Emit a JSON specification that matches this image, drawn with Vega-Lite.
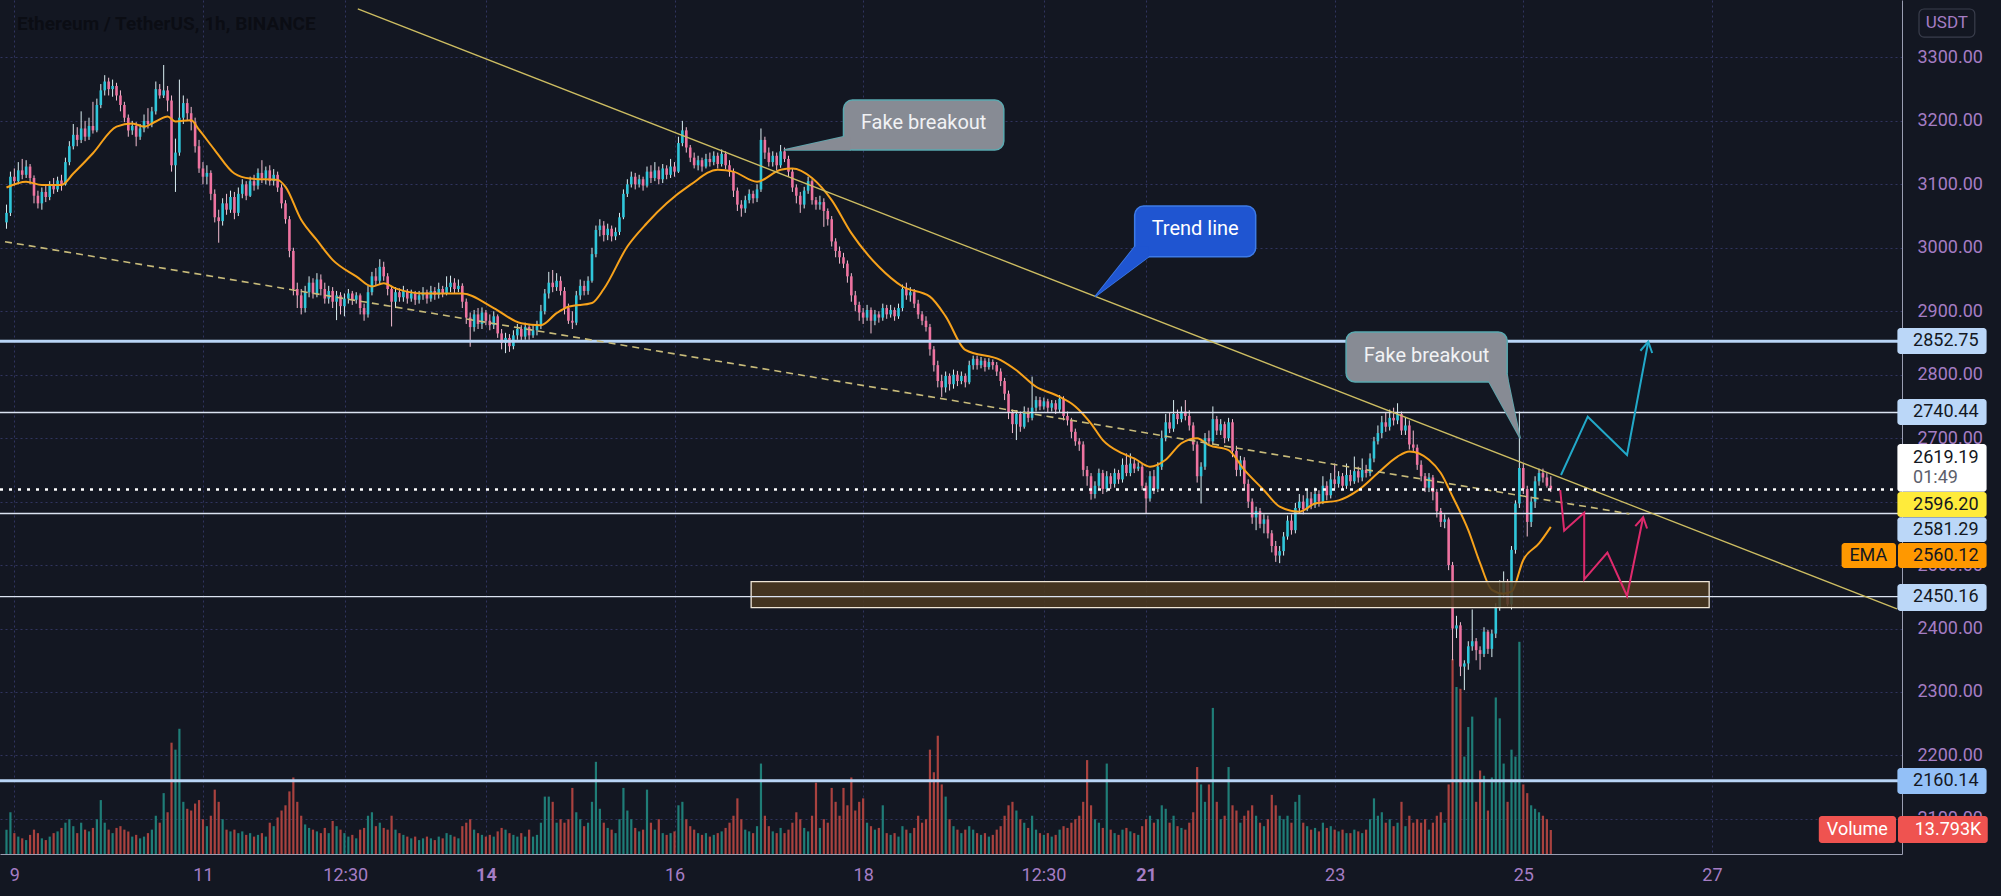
{
"$schema":"https://vega.github.io/schema/vega-lite/v6.json",
"width":1902,"height":854,
"autosize":{"type":"none"},
"padding":{"left":0,"top":0,"right":99,"bottom":42},
"background":"#131722",
"config":{"view":{"stroke":null},"font":"Roboto"},
"datasets":{
"k":[
{"t":-2,"o":3040,"h":3068,"l":3030,"c":3055,"v":14},
{"t":-1,"o":3055,"h":3120,"l":3050,"c":3112,"v":24},
{"t":0,"o":3112,"h":3125,"l":3098,"c":3105,"v":12},
{"t":1,"o":3105,"h":3135,"l":3100,"c":3122,"v":10},
{"t":2,"o":3122,"h":3140,"l":3108,"c":3115,"v":9},
{"t":3,"o":3115,"h":3138,"l":3110,"c":3128,"v":8},
{"t":4,"o":3128,"h":3132,"l":3100,"c":3110,"v":11},
{"t":5,"o":3110,"h":3114,"l":3070,"c":3082,"v":14},
{"t":6,"o":3082,"h":3090,"l":3062,"c":3070,"v":12},
{"t":7,"o":3070,"h":3095,"l":3060,"c":3088,"v":9},
{"t":8,"o":3088,"h":3098,"l":3072,"c":3080,"v":8},
{"t":9,"o":3080,"h":3105,"l":3075,"c":3098,"v":10},
{"t":10,"o":3098,"h":3110,"l":3085,"c":3092,"v":12},
{"t":11,"o":3092,"h":3112,"l":3088,"c":3106,"v":13},
{"t":12,"o":3106,"h":3115,"l":3090,"c":3100,"v":15},
{"t":13,"o":3100,"h":3142,"l":3098,"c":3135,"v":18},
{"t":14,"o":3135,"h":3168,"l":3130,"c":3160,"v":20},
{"t":15,"o":3160,"h":3195,"l":3155,"c":3178,"v":16},
{"t":16,"o":3178,"h":3190,"l":3160,"c":3170,"v":12},
{"t":17,"o":3170,"h":3215,"l":3165,"c":3188,"v":18},
{"t":18,"o":3188,"h":3200,"l":3168,"c":3175,"v":14},
{"t":19,"o":3175,"h":3205,"l":3170,"c":3192,"v":13},
{"t":20,"o":3192,"h":3230,"l":3180,"c":3185,"v":15},
{"t":21,"o":3185,"h":3235,"l":3182,"c":3225,"v":20},
{"t":22,"o":3225,"h":3258,"l":3220,"c":3248,"v":31},
{"t":23,"o":3248,"h":3272,"l":3240,"c":3262,"v":18},
{"t":24,"o":3262,"h":3268,"l":3240,"c":3250,"v":14},
{"t":25,"o":3250,"h":3265,"l":3238,"c":3255,"v":12},
{"t":26,"o":3255,"h":3260,"l":3232,"c":3240,"v":15},
{"t":27,"o":3240,"h":3248,"l":3215,"c":3225,"v":16},
{"t":28,"o":3225,"h":3230,"l":3198,"c":3205,"v":14},
{"t":29,"o":3205,"h":3210,"l":3175,"c":3185,"v":13},
{"t":30,"o":3185,"h":3200,"l":3178,"c":3192,"v":10},
{"t":31,"o":3192,"h":3198,"l":3160,"c":3175,"v":11},
{"t":32,"o":3175,"h":3195,"l":3170,"c":3188,"v":9},
{"t":33,"o":3188,"h":3210,"l":3182,"c":3200,"v":10},
{"t":34,"o":3200,"h":3220,"l":3188,"c":3195,"v":12},
{"t":35,"o":3195,"h":3222,"l":3190,"c":3215,"v":14},
{"t":36,"o":3215,"h":3262,"l":3210,"c":3250,"v":22},
{"t":37,"o":3250,"h":3258,"l":3235,"c":3240,"v":18},
{"t":38,"o":3240,"h":3288,"l":3236,"c":3248,"v":35},
{"t":39,"o":3248,"h":3255,"l":3215,"c":3232,"v":24},
{"t":40,"o":3232,"h":3240,"l":3120,"c":3130,"v":64},
{"t":41,"o":3130,"h":3172,"l":3088,"c":3150,"v":60},
{"t":42,"o":3150,"h":3265,"l":3145,"c":3205,"v":72},
{"t":43,"o":3205,"h":3240,"l":3195,"c":3228,"v":30},
{"t":44,"o":3228,"h":3235,"l":3200,"c":3212,"v":26},
{"t":45,"o":3212,"h":3222,"l":3185,"c":3198,"v":25},
{"t":46,"o":3198,"h":3205,"l":3150,"c":3160,"v":29},
{"t":47,"o":3160,"h":3170,"l":3118,"c":3125,"v":31},
{"t":48,"o":3125,"h":3135,"l":3100,"c":3112,"v":20},
{"t":49,"o":3112,"h":3130,"l":3100,"c":3118,"v":16},
{"t":50,"o":3118,"h":3122,"l":3075,"c":3085,"v":22},
{"t":51,"o":3085,"h":3092,"l":3040,"c":3048,"v":37},
{"t":52,"o":3048,"h":3060,"l":3008,"c":3042,"v":30},
{"t":53,"o":3042,"h":3078,"l":3035,"c":3070,"v":20},
{"t":54,"o":3070,"h":3085,"l":3052,"c":3060,"v":14},
{"t":55,"o":3060,"h":3090,"l":3055,"c":3080,"v":13},
{"t":56,"o":3080,"h":3088,"l":3045,"c":3055,"v":14},
{"t":57,"o":3055,"h":3095,"l":3050,"c":3085,"v":12},
{"t":58,"o":3085,"h":3108,"l":3078,"c":3100,"v":13},
{"t":59,"o":3100,"h":3105,"l":3075,"c":3082,"v":11},
{"t":60,"o":3082,"h":3112,"l":3080,"c":3105,"v":12},
{"t":61,"o":3105,"h":3115,"l":3090,"c":3098,"v":10},
{"t":62,"o":3098,"h":3125,"l":3092,"c":3118,"v":11},
{"t":63,"o":3118,"h":3138,"l":3102,"c":3110,"v":12},
{"t":64,"o":3110,"h":3128,"l":3100,"c":3122,"v":10},
{"t":65,"o":3122,"h":3130,"l":3098,"c":3105,"v":18},
{"t":66,"o":3105,"h":3124,"l":3098,"c":3115,"v":16},
{"t":67,"o":3115,"h":3120,"l":3088,"c":3095,"v":21},
{"t":68,"o":3095,"h":3100,"l":3062,"c":3070,"v":25},
{"t":69,"o":3070,"h":3075,"l":3038,"c":3045,"v":28},
{"t":70,"o":3045,"h":3050,"l":2985,"c":2995,"v":36},
{"t":71,"o":2995,"h":3000,"l":2925,"c":2935,"v":44},
{"t":72,"o":2935,"h":2945,"l":2905,"c":2925,"v":30},
{"t":73,"o":2925,"h":2935,"l":2895,"c":2905,"v":22},
{"t":74,"o":2905,"h":2940,"l":2898,"c":2930,"v":17},
{"t":75,"o":2930,"h":2955,"l":2922,"c":2945,"v":15},
{"t":76,"o":2945,"h":2952,"l":2920,"c":2928,"v":14},
{"t":77,"o":2928,"h":2960,"l":2922,"c":2950,"v":13},
{"t":78,"o":2950,"h":2958,"l":2925,"c":2935,"v":12},
{"t":79,"o":2935,"h":2945,"l":2912,"c":2920,"v":15},
{"t":80,"o":2920,"h":2940,"l":2912,"c":2932,"v":12},
{"t":81,"o":2932,"h":2938,"l":2905,"c":2915,"v":19},
{"t":82,"o":2915,"h":2932,"l":2886,"c":2925,"v":16},
{"t":83,"o":2925,"h":2930,"l":2895,"c":2908,"v":14},
{"t":84,"o":2908,"h":2928,"l":2892,"c":2920,"v":12},
{"t":85,"o":2920,"h":2935,"l":2912,"c":2928,"v":10},
{"t":86,"o":2928,"h":2932,"l":2910,"c":2918,"v":11},
{"t":87,"o":2918,"h":2930,"l":2912,"c":2925,"v":9},
{"t":88,"o":2925,"h":2928,"l":2895,"c":2905,"v":14},
{"t":89,"o":2905,"h":2912,"l":2885,"c":2895,"v":15},
{"t":90,"o":2895,"h":2940,"l":2890,"c":2930,"v":22},
{"t":91,"o":2930,"h":2962,"l":2925,"c":2955,"v":24},
{"t":92,"o":2955,"h":2968,"l":2940,"c":2948,"v":16},
{"t":93,"o":2948,"h":2982,"l":2942,"c":2970,"v":18},
{"t":94,"o":2970,"h":2978,"l":2948,"c":2955,"v":15},
{"t":95,"o":2955,"h":2960,"l":2925,"c":2935,"v":14},
{"t":96,"o":2935,"h":2940,"l":2876,"c":2915,"v":22},
{"t":97,"o":2915,"h":2938,"l":2905,"c":2930,"v":14},
{"t":98,"o":2930,"h":2936,"l":2915,"c":2922,"v":12},
{"t":99,"o":2922,"h":2940,"l":2915,"c":2932,"v":11},
{"t":100,"o":2932,"h":2935,"l":2912,"c":2920,"v":10},
{"t":101,"o":2920,"h":2934,"l":2915,"c":2928,"v":9},
{"t":102,"o":2928,"h":2932,"l":2910,"c":2918,"v":10},
{"t":103,"o":2918,"h":2932,"l":2912,"c":2925,"v":8},
{"t":104,"o":2925,"h":2938,"l":2918,"c":2930,"v":9},
{"t":105,"o":2930,"h":2934,"l":2912,"c":2920,"v":10},
{"t":106,"o":2920,"h":2940,"l":2915,"c":2932,"v":9},
{"t":107,"o":2932,"h":2938,"l":2918,"c":2926,"v":8},
{"t":108,"o":2926,"h":2945,"l":2920,"c":2935,"v":10},
{"t":109,"o":2935,"h":2940,"l":2922,"c":2928,"v":9},
{"t":110,"o":2928,"h":2955,"l":2925,"c":2938,"v":12},
{"t":111,"o":2938,"h":2956,"l":2930,"c":2945,"v":11},
{"t":112,"o":2945,"h":2952,"l":2928,"c":2935,"v":10},
{"t":113,"o":2935,"h":2950,"l":2930,"c":2940,"v":9},
{"t":114,"o":2940,"h":2944,"l":2905,"c":2915,"v":16},
{"t":115,"o":2915,"h":2920,"l":2880,"c":2890,"v":18},
{"t":116,"o":2890,"h":2898,"l":2844,"c":2875,"v":20},
{"t":117,"o":2875,"h":2902,"l":2868,"c":2895,"v":14},
{"t":118,"o":2895,"h":2905,"l":2872,"c":2880,"v":12},
{"t":119,"o":2880,"h":2906,"l":2872,"c":2898,"v":11},
{"t":120,"o":2898,"h":2902,"l":2878,"c":2885,"v":10},
{"t":121,"o":2885,"h":2895,"l":2870,"c":2878,"v":11},
{"t":122,"o":2878,"h":2900,"l":2872,"c":2892,"v":10},
{"t":123,"o":2892,"h":2895,"l":2858,"c":2865,"v":13},
{"t":124,"o":2865,"h":2872,"l":2840,"c":2850,"v":15},
{"t":125,"o":2850,"h":2866,"l":2834,"c":2858,"v":14},
{"t":126,"o":2858,"h":2864,"l":2836,"c":2845,"v":12},
{"t":127,"o":2845,"h":2870,"l":2840,"c":2862,"v":11},
{"t":128,"o":2862,"h":2880,"l":2855,"c":2872,"v":10},
{"t":129,"o":2872,"h":2878,"l":2852,"c":2860,"v":12},
{"t":130,"o":2860,"h":2882,"l":2855,"c":2875,"v":10},
{"t":131,"o":2875,"h":2880,"l":2855,"c":2862,"v":14},
{"t":132,"o":2862,"h":2878,"l":2858,"c":2870,"v":10},
{"t":133,"o":2870,"h":2885,"l":2862,"c":2878,"v":11},
{"t":134,"o":2878,"h":2910,"l":2872,"c":2900,"v":18},
{"t":135,"o":2900,"h":2935,"l":2895,"c":2928,"v":33},
{"t":136,"o":2928,"h":2962,"l":2920,"c":2945,"v":33},
{"t":137,"o":2945,"h":2965,"l":2930,"c":2938,"v":30},
{"t":138,"o":2938,"h":2960,"l":2932,"c":2948,"v":18},
{"t":139,"o":2948,"h":2955,"l":2925,"c":2932,"v":20},
{"t":140,"o":2932,"h":2938,"l":2895,"c":2905,"v":18},
{"t":141,"o":2905,"h":2912,"l":2880,"c":2885,"v":20},
{"t":142,"o":2885,"h":2900,"l":2872,"c":2882,"v":38},
{"t":143,"o":2882,"h":2932,"l":2878,"c":2925,"v":24},
{"t":144,"o":2925,"h":2950,"l":2918,"c":2940,"v":20},
{"t":145,"o":2940,"h":2948,"l":2925,"c":2932,"v":16},
{"t":146,"o":2932,"h":2955,"l":2926,"c":2948,"v":18},
{"t":147,"o":2948,"h":3000,"l":2945,"c":2990,"v":30},
{"t":148,"o":2990,"h":3035,"l":2985,"c":3028,"v":53},
{"t":149,"o":3028,"h":3045,"l":3018,"c":3035,"v":26},
{"t":150,"o":3035,"h":3042,"l":3010,"c":3020,"v":18},
{"t":151,"o":3020,"h":3038,"l":3012,"c":3030,"v":15},
{"t":152,"o":3030,"h":3035,"l":3010,"c":3018,"v":14},
{"t":153,"o":3018,"h":3032,"l":3012,"c":3025,"v":12},
{"t":154,"o":3025,"h":3055,"l":3020,"c":3048,"v":20},
{"t":155,"o":3048,"h":3092,"l":3045,"c":3085,"v":38},
{"t":156,"o":3085,"h":3108,"l":3080,"c":3100,"v":25},
{"t":157,"o":3100,"h":3120,"l":3095,"c":3112,"v":20},
{"t":158,"o":3112,"h":3118,"l":3092,"c":3100,"v":15},
{"t":159,"o":3100,"h":3115,"l":3095,"c":3108,"v":13},
{"t":160,"o":3108,"h":3112,"l":3090,"c":3098,"v":14},
{"t":161,"o":3098,"h":3128,"l":3095,"c":3120,"v":37},
{"t":162,"o":3120,"h":3130,"l":3102,"c":3110,"v":18},
{"t":163,"o":3110,"h":3135,"l":3105,"c":3122,"v":14},
{"t":164,"o":3122,"h":3128,"l":3100,"c":3108,"v":20},
{"t":165,"o":3108,"h":3132,"l":3102,"c":3125,"v":12},
{"t":166,"o":3125,"h":3130,"l":3108,"c":3115,"v":11},
{"t":167,"o":3115,"h":3140,"l":3110,"c":3128,"v":12},
{"t":168,"o":3128,"h":3135,"l":3112,"c":3120,"v":13},
{"t":169,"o":3120,"h":3175,"l":3118,"c":3165,"v":28},
{"t":170,"o":3165,"h":3200,"l":3160,"c":3185,"v":30},
{"t":171,"o":3185,"h":3190,"l":3150,"c":3158,"v":20},
{"t":172,"o":3158,"h":3162,"l":3135,"c":3142,"v":16},
{"t":173,"o":3142,"h":3150,"l":3125,"c":3130,"v":14},
{"t":174,"o":3130,"h":3145,"l":3122,"c":3138,"v":12},
{"t":175,"o":3138,"h":3142,"l":3120,"c":3128,"v":11},
{"t":176,"o":3128,"h":3148,"l":3125,"c":3140,"v":12},
{"t":177,"o":3140,"h":3150,"l":3128,"c":3135,"v":10},
{"t":178,"o":3135,"h":3152,"l":3130,"c":3145,"v":11},
{"t":179,"o":3145,"h":3150,"l":3125,"c":3132,"v":12},
{"t":180,"o":3132,"h":3155,"l":3128,"c":3148,"v":13},
{"t":181,"o":3148,"h":3152,"l":3124,"c":3130,"v":15},
{"t":182,"o":3130,"h":3138,"l":3112,"c":3120,"v":18},
{"t":183,"o":3120,"h":3125,"l":3080,"c":3090,"v":22},
{"t":184,"o":3090,"h":3095,"l":3058,"c":3068,"v":32},
{"t":185,"o":3068,"h":3075,"l":3049,"c":3062,"v":20},
{"t":186,"o":3062,"h":3082,"l":3055,"c":3075,"v":14},
{"t":187,"o":3075,"h":3092,"l":3070,"c":3085,"v":13},
{"t":188,"o":3085,"h":3090,"l":3070,"c":3078,"v":12},
{"t":189,"o":3078,"h":3100,"l":3072,"c":3092,"v":16},
{"t":190,"o":3092,"h":3188,"l":3088,"c":3170,"v":52},
{"t":191,"o":3170,"h":3175,"l":3140,"c":3150,"v":22},
{"t":192,"o":3150,"h":3158,"l":3128,"c":3135,"v":16},
{"t":193,"o":3135,"h":3152,"l":3128,"c":3145,"v":13},
{"t":194,"o":3145,"h":3150,"l":3122,"c":3130,"v":12},
{"t":195,"o":3130,"h":3162,"l":3126,"c":3152,"v":15},
{"t":196,"o":3152,"h":3158,"l":3135,"c":3140,"v":12},
{"t":197,"o":3140,"h":3145,"l":3112,"c":3120,"v":14},
{"t":198,"o":3120,"h":3125,"l":3088,"c":3095,"v":18},
{"t":199,"o":3095,"h":3100,"l":3070,"c":3082,"v":24},
{"t":200,"o":3082,"h":3088,"l":3055,"c":3068,"v":20},
{"t":201,"o":3068,"h":3096,"l":3062,"c":3090,"v":15},
{"t":202,"o":3090,"h":3112,"l":3085,"c":3105,"v":13},
{"t":203,"o":3105,"h":3108,"l":3068,"c":3075,"v":22},
{"t":204,"o":3075,"h":3080,"l":3060,"c":3068,"v":41},
{"t":205,"o":3068,"h":3082,"l":3060,"c":3072,"v":15},
{"t":206,"o":3072,"h":3078,"l":3033,"c":3058,"v":20},
{"t":207,"o":3058,"h":3062,"l":3035,"c":3045,"v":18},
{"t":208,"o":3045,"h":3050,"l":3002,"c":3010,"v":38},
{"t":209,"o":3010,"h":3015,"l":2985,"c":2995,"v":30},
{"t":210,"o":2995,"h":3002,"l":2975,"c":2985,"v":22},
{"t":211,"o":2985,"h":2992,"l":2968,"c":2975,"v":38},
{"t":212,"o":2975,"h":2980,"l":2945,"c":2955,"v":28},
{"t":213,"o":2955,"h":2960,"l":2915,"c":2925,"v":44},
{"t":214,"o":2925,"h":2932,"l":2900,"c":2910,"v":25},
{"t":215,"o":2910,"h":2915,"l":2885,"c":2898,"v":30},
{"t":216,"o":2898,"h":2905,"l":2880,"c":2890,"v":32},
{"t":217,"o":2890,"h":2910,"l":2885,"c":2902,"v":18},
{"t":218,"o":2902,"h":2906,"l":2865,"c":2885,"v":16},
{"t":219,"o":2885,"h":2902,"l":2878,"c":2895,"v":14},
{"t":220,"o":2895,"h":2900,"l":2882,"c":2890,"v":15},
{"t":221,"o":2890,"h":2912,"l":2885,"c":2905,"v":28},
{"t":222,"o":2905,"h":2910,"l":2888,"c":2895,"v":12},
{"t":223,"o":2895,"h":2910,"l":2890,"c":2902,"v":11},
{"t":224,"o":2902,"h":2906,"l":2885,"c":2892,"v":12},
{"t":225,"o":2892,"h":2912,"l":2888,"c":2905,"v":10},
{"t":226,"o":2905,"h":2942,"l":2900,"c":2935,"v":16},
{"t":227,"o":2935,"h":2945,"l":2918,"c":2925,"v":14},
{"t":228,"o":2925,"h":2938,"l":2915,"c":2930,"v":12},
{"t":229,"o":2930,"h":2935,"l":2905,"c":2912,"v":15},
{"t":230,"o":2912,"h":2918,"l":2888,"c":2895,"v":22},
{"t":231,"o":2895,"h":2900,"l":2878,"c":2885,"v":18},
{"t":232,"o":2885,"h":2892,"l":2868,"c":2875,"v":20},
{"t":233,"o":2875,"h":2880,"l":2830,"c":2840,"v":60},
{"t":234,"o":2840,"h":2845,"l":2805,"c":2815,"v":47},
{"t":235,"o":2815,"h":2822,"l":2780,"c":2790,"v":68},
{"t":236,"o":2790,"h":2800,"l":2765,"c":2780,"v":40},
{"t":237,"o":2780,"h":2805,"l":2772,"c":2798,"v":33},
{"t":238,"o":2798,"h":2802,"l":2775,"c":2785,"v":20},
{"t":239,"o":2785,"h":2808,"l":2778,"c":2800,"v":16},
{"t":240,"o":2800,"h":2806,"l":2782,"c":2790,"v":14},
{"t":241,"o":2790,"h":2805,"l":2785,"c":2798,"v":12},
{"t":242,"o":2798,"h":2802,"l":2780,"c":2788,"v":14},
{"t":243,"o":2788,"h":2822,"l":2785,"c":2815,"v":16},
{"t":244,"o":2815,"h":2830,"l":2808,"c":2825,"v":14},
{"t":245,"o":2825,"h":2830,"l":2808,"c":2815,"v":12},
{"t":246,"o":2815,"h":2828,"l":2810,"c":2822,"v":11},
{"t":247,"o":2822,"h":2826,"l":2805,"c":2812,"v":12},
{"t":248,"o":2812,"h":2826,"l":2808,"c":2820,"v":10},
{"t":249,"o":2820,"h":2824,"l":2808,"c":2815,"v":11},
{"t":250,"o":2815,"h":2820,"l":2798,"c":2805,"v":14},
{"t":251,"o":2805,"h":2810,"l":2782,"c":2790,"v":16},
{"t":252,"o":2790,"h":2795,"l":2760,"c":2770,"v":22},
{"t":253,"o":2770,"h":2775,"l":2730,"c":2740,"v":28},
{"t":254,"o":2740,"h":2745,"l":2708,"c":2722,"v":30},
{"t":255,"o":2722,"h":2744,"l":2697,"c":2738,"v":25},
{"t":256,"o":2738,"h":2742,"l":2710,"c":2718,"v":20},
{"t":257,"o":2718,"h":2750,"l":2715,"c":2742,"v":18},
{"t":258,"o":2742,"h":2748,"l":2725,"c":2732,"v":15},
{"t":259,"o":2732,"h":2797,"l":2728,"c":2748,"v":22},
{"t":260,"o":2748,"h":2766,"l":2742,"c":2760,"v":14},
{"t":261,"o":2760,"h":2765,"l":2744,"c":2750,"v":12},
{"t":262,"o":2750,"h":2764,"l":2745,"c":2758,"v":11},
{"t":263,"o":2758,"h":2762,"l":2740,"c":2748,"v":12},
{"t":264,"o":2748,"h":2760,"l":2742,"c":2755,"v":10},
{"t":265,"o":2755,"h":2760,"l":2738,"c":2745,"v":11},
{"t":266,"o":2745,"h":2768,"l":2740,"c":2762,"v":14},
{"t":267,"o":2762,"h":2766,"l":2728,"c":2735,"v":16},
{"t":268,"o":2735,"h":2742,"l":2720,"c":2728,"v":15},
{"t":269,"o":2728,"h":2732,"l":2700,"c":2710,"v":18},
{"t":270,"o":2710,"h":2715,"l":2688,"c":2695,"v":20},
{"t":271,"o":2695,"h":2700,"l":2680,"c":2690,"v":22},
{"t":272,"o":2690,"h":2695,"l":2640,"c":2650,"v":30},
{"t":273,"o":2650,"h":2656,"l":2625,"c":2640,"v":54},
{"t":274,"o":2640,"h":2645,"l":2603,"c":2612,"v":28},
{"t":275,"o":2612,"h":2632,"l":2605,"c":2625,"v":20},
{"t":276,"o":2625,"h":2652,"l":2620,"c":2645,"v":18},
{"t":277,"o":2645,"h":2650,"l":2612,"c":2620,"v":15},
{"t":278,"o":2620,"h":2648,"l":2615,"c":2640,"v":52},
{"t":279,"o":2640,"h":2645,"l":2620,"c":2628,"v":14},
{"t":280,"o":2628,"h":2652,"l":2622,"c":2645,"v":12},
{"t":281,"o":2645,"h":2650,"l":2628,"c":2635,"v":11},
{"t":282,"o":2635,"h":2668,"l":2630,"c":2658,"v":14},
{"t":283,"o":2658,"h":2676,"l":2640,"c":2645,"v":15},
{"t":284,"o":2645,"h":2676,"l":2640,"c":2660,"v":13},
{"t":285,"o":2660,"h":2668,"l":2645,"c":2652,"v":12},
{"t":286,"o":2652,"h":2662,"l":2648,"c":2655,"v":11},
{"t":287,"o":2655,"h":2660,"l":2618,"c":2625,"v":16},
{"t":288,"o":2625,"h":2630,"l":2581,"c":2605,"v":20},
{"t":289,"o":2605,"h":2648,"l":2600,"c":2640,"v":22},
{"t":290,"o":2640,"h":2650,"l":2612,"c":2620,"v":18},
{"t":291,"o":2620,"h":2662,"l":2615,"c":2655,"v":20},
{"t":292,"o":2655,"h":2712,"l":2650,"c":2700,"v":28},
{"t":293,"o":2700,"h":2738,"l":2695,"c":2725,"v":26},
{"t":294,"o":2725,"h":2740,"l":2708,"c":2715,"v":18},
{"t":295,"o":2715,"h":2760,"l":2710,"c":2738,"v":22},
{"t":296,"o":2738,"h":2745,"l":2722,"c":2730,"v":16},
{"t":297,"o":2730,"h":2750,"l":2725,"c":2742,"v":15},
{"t":298,"o":2742,"h":2760,"l":2728,"c":2735,"v":14},
{"t":299,"o":2735,"h":2744,"l":2712,"c":2720,"v":18},
{"t":300,"o":2720,"h":2725,"l":2680,"c":2690,"v":24},
{"t":301,"o":2690,"h":2695,"l":2630,"c":2640,"v":50},
{"t":302,"o":2640,"h":2662,"l":2597,"c":2655,"v":40},
{"t":303,"o":2655,"h":2708,"l":2650,"c":2700,"v":30},
{"t":304,"o":2700,"h":2712,"l":2688,"c":2695,"v":40},
{"t":305,"o":2695,"h":2750,"l":2690,"c":2730,"v":84},
{"t":306,"o":2730,"h":2735,"l":2705,"c":2712,"v":30},
{"t":307,"o":2712,"h":2730,"l":2705,"c":2722,"v":20},
{"t":308,"o":2722,"h":2726,"l":2692,"c":2700,"v":22},
{"t":309,"o":2700,"h":2732,"l":2695,"c":2725,"v":50},
{"t":310,"o":2725,"h":2730,"l":2670,"c":2680,"v":28},
{"t":311,"o":2680,"h":2688,"l":2640,"c":2650,"v":25},
{"t":312,"o":2650,"h":2672,"l":2640,"c":2665,"v":18},
{"t":313,"o":2665,"h":2670,"l":2620,"c":2628,"v":22},
{"t":314,"o":2628,"h":2635,"l":2590,"c":2600,"v":25},
{"t":315,"o":2600,"h":2605,"l":2565,"c":2575,"v":28},
{"t":316,"o":2575,"h":2592,"l":2555,"c":2585,"v":22},
{"t":317,"o":2585,"h":2590,"l":2558,"c":2565,"v":18},
{"t":318,"o":2565,"h":2580,"l":2550,"c":2572,"v":16},
{"t":319,"o":2572,"h":2578,"l":2542,"c":2550,"v":20},
{"t":320,"o":2550,"h":2555,"l":2520,"c":2530,"v":34},
{"t":321,"o":2530,"h":2538,"l":2505,"c":2515,"v":28},
{"t":322,"o":2515,"h":2530,"l":2503,"c":2522,"v":22},
{"t":323,"o":2522,"h":2552,"l":2515,"c":2545,"v":20},
{"t":324,"o":2545,"h":2578,"l":2540,"c":2570,"v":22},
{"t":325,"o":2570,"h":2580,"l":2548,"c":2555,"v":18},
{"t":326,"o":2555,"h":2598,"l":2550,"c":2590,"v":30},
{"t":327,"o":2590,"h":2612,"l":2582,"c":2600,"v":34},
{"t":328,"o":2600,"h":2610,"l":2580,"c":2588,"v":18},
{"t":329,"o":2588,"h":2618,"l":2585,"c":2605,"v":16},
{"t":330,"o":2605,"h":2615,"l":2588,"c":2595,"v":14},
{"t":331,"o":2595,"h":2622,"l":2590,"c":2612,"v":15},
{"t":332,"o":2612,"h":2618,"l":2592,"c":2600,"v":13},
{"t":333,"o":2600,"h":2640,"l":2596,"c":2625,"v":18},
{"t":334,"o":2625,"h":2632,"l":2602,"c":2610,"v":15},
{"t":335,"o":2610,"h":2645,"l":2605,"c":2635,"v":16},
{"t":336,"o":2635,"h":2660,"l":2620,"c":2628,"v":14},
{"t":337,"o":2628,"h":2648,"l":2622,"c":2640,"v":13},
{"t":338,"o":2640,"h":2645,"l":2618,"c":2625,"v":14},
{"t":339,"o":2625,"h":2660,"l":2620,"c":2642,"v":12},
{"t":340,"o":2642,"h":2650,"l":2625,"c":2632,"v":12},
{"t":341,"o":2632,"h":2671,"l":2628,"c":2648,"v":14},
{"t":342,"o":2648,"h":2655,"l":2630,"c":2638,"v":13},
{"t":343,"o":2638,"h":2668,"l":2632,"c":2650,"v":12},
{"t":344,"o":2650,"h":2658,"l":2638,"c":2645,"v":14},
{"t":345,"o":2645,"h":2676,"l":2640,"c":2668,"v":20},
{"t":346,"o":2668,"h":2702,"l":2662,"c":2695,"v":32},
{"t":347,"o":2695,"h":2720,"l":2690,"c":2708,"v":22},
{"t":348,"o":2708,"h":2735,"l":2700,"c":2725,"v":24},
{"t":349,"o":2725,"h":2740,"l":2710,"c":2718,"v":18},
{"t":350,"o":2718,"h":2745,"l":2712,"c":2732,"v":20},
{"t":351,"o":2732,"h":2748,"l":2720,"c":2728,"v":16},
{"t":352,"o":2728,"h":2755,"l":2722,"c":2738,"v":18},
{"t":353,"o":2738,"h":2742,"l":2705,"c":2712,"v":30},
{"t":354,"o":2712,"h":2732,"l":2705,"c":2720,"v":16},
{"t":355,"o":2720,"h":2728,"l":2682,"c":2690,"v":22},
{"t":356,"o":2690,"h":2712,"l":2678,"c":2685,"v":18},
{"t":357,"o":2685,"h":2690,"l":2650,"c":2658,"v":20},
{"t":358,"o":2658,"h":2665,"l":2632,"c":2640,"v":18},
{"t":359,"o":2640,"h":2645,"l":2615,"c":2622,"v":20},
{"t":360,"o":2622,"h":2645,"l":2615,"c":2638,"v":14},
{"t":361,"o":2638,"h":2642,"l":2602,"c":2615,"v":18},
{"t":362,"o":2615,"h":2620,"l":2575,"c":2585,"v":22},
{"t":363,"o":2585,"h":2590,"l":2560,"c":2568,"v":24},
{"t":364,"o":2568,"h":2580,"l":2558,"c":2572,"v":18},
{"t":365,"o":2572,"h":2575,"l":2492,"c":2500,"v":40},
{"t":366,"o":2500,"h":2505,"l":2350,"c":2400,"v":112},
{"t":367,"o":2400,"h":2420,"l":2385,"c":2405,"v":96},
{"t":368,"o":2405,"h":2410,"l":2325,"c":2340,"v":95},
{"t":369,"o":2340,"h":2350,"l":2303,"c":2345,"v":56},
{"t":370,"o":2345,"h":2380,"l":2335,"c":2372,"v":73},
{"t":371,"o":2372,"h":2430,"l":2365,"c":2380,"v":79},
{"t":372,"o":2380,"h":2385,"l":2350,"c":2366,"v":30},
{"t":373,"o":2366,"h":2372,"l":2335,"c":2360,"v":48},
{"t":374,"o":2360,"h":2402,"l":2355,"c":2395,"v":45},
{"t":375,"o":2395,"h":2398,"l":2360,"c":2368,"v":25},
{"t":376,"o":2368,"h":2398,"l":2355,"c":2392,"v":44},
{"t":377,"o":2392,"h":2440,"l":2385,"c":2434,"v":90},
{"t":378,"o":2434,"h":2476,"l":2428,"c":2455,"v":78},
{"t":379,"o":2455,"h":2490,"l":2448,"c":2474,"v":52},
{"t":380,"o":2474,"h":2478,"l":2435,"c":2438,"v":30},
{"t":381,"o":2438,"h":2530,"l":2430,"c":2524,"v":60},
{"t":382,"o":2524,"h":2602,"l":2518,"c":2597,"v":56},
{"t":383,"o":2597,"h":2742,"l":2590,"c":2653,"v":122},
{"t":384,"o":2653,"h":2660,"l":2612,"c":2620,"v":40},
{"t":385,"o":2620,"h":2625,"l":2545,"c":2568,"v":35},
{"t":386,"o":2568,"h":2608,"l":2560,"c":2600,"v":28},
{"t":387,"o":2600,"h":2640,"l":2590,"c":2632,"v":26},
{"t":388,"o":2632,"h":2652,"l":2625,"c":2645,"v":24},
{"t":389,"o":2645,"h":2652,"l":2630,"c":2638,"v":22},
{"t":390,"o":2638,"h":2645,"l":2622,"c":2625,"v":20},
{"t":391,"o":2625,"h":2640,"l":2615,"c":2619.19,"v":13.793}
],
"ema":[
{"t":-2,"e":3095},{"t":3,"e":3104},{"t":7,"e":3099},{"t":12,"e":3099},{"t":15,"e":3117},{"t":20,"e":3149},{"t":26,"e":3191},{"t":30,"e":3196},{"t":33,"e":3191},{"t":36,"e":3199},{"t":39,"e":3207},{"t":41,"e":3199},{"t":45,"e":3201},{"t":47,"e":3186},{"t":51,"e":3154},{"t":56,"e":3117},{"t":60,"e":3109},{"t":67,"e":3107},{"t":69,"e":3096},{"t":73,"e":3044},{"t":77,"e":3012},{"t":81,"e":2981},{"t":87,"e":2955},{"t":91,"e":2939},{"t":94,"e":2944},{"t":97,"e":2936},{"t":104,"e":2928},{"t":114,"e":2928},{"t":122,"e":2905},{"t":129,"e":2881},{"t":134,"e":2878},{"t":138,"e":2897},{"t":141,"e":2907},{"t":147,"e":2913},{"t":150,"e":2935},{"t":156,"e":3002},{"t":161,"e":3039},{"t":166,"e":3070},{"t":172,"e":3099},{"t":179,"e":3123},{"t":183,"e":3120},{"t":189,"e":3104},{"t":195,"e":3123},{"t":198,"e":3125},{"t":203,"e":3110},{"t":208,"e":3075},{"t":213,"e":3023},{"t":220,"e":2970},{"t":226,"e":2939},{"t":233,"e":2923},{"t":237,"e":2892},{"t":242,"e":2839},{"t":251,"e":2823},{"t":255,"e":2807},{"t":260,"e":2781},{"t":265,"e":2768},{"t":270,"e":2750},{"t":274,"e":2723},{"t":277,"e":2697},{"t":282,"e":2676},{"t":285,"e":2668},{"t":289,"e":2655},{"t":293,"e":2666},{"t":297,"e":2692},{"t":301,"e":2700},{"t":304,"e":2689},{"t":309,"e":2681},{"t":313,"e":2650},{"t":318,"e":2618},{"t":322,"e":2592},{"t":327,"e":2584},{"t":331,"e":2597},{"t":337,"e":2602},{"t":342,"e":2618},{"t":347,"e":2645},{"t":352,"e":2671},{"t":355,"e":2679},{"t":360,"e":2666},{"t":363,"e":2645},{"t":366,"e":2608},{"t":370,"e":2555},{"t":373,"e":2503},{"t":376,"e":2461},{"t":379,"e":2455},{"t":381,"e":2458},{"t":384,"e":2508},{"t":388,"e":2534},{"t":391,"e":2560.12}
],
"hl":[{"p":2852.75,"k":"major"},{"p":2160.14,"k":"major"},{"p":2740.44,"k":"minor"},{"p":2581.29,"k":"minor"},{"p":2450.16,"k":"minor"}],
"tl":[{"g":"solid","t":87.4,"p":3376.4},{"g":"solid","t":479.1,"p":2431},{"g":"dash","t":-2.38,"p":3009.6},{"g":"dash","t":411,"p":2580.7}],
"zone":[{"t1":187.5,"t2":431.3,"p1":2473.8,"p2":2432.8}],
"co":[{"id":"fb1","txt":"Fake breakout","t1":211.0,"t2":251.8,"p1":3232.8,"p2":3154.0,"tt":231.4,"tp":3196},{"id":"tl","txt":"Trend line","t1":285.1,"t2":315.9,"p1":3065.8,"p2":2985.9,"tt":300.5,"tp":3029},{"id":"fb2","txt":"Fake breakout","t1":338.9,"t2":379.9,"p1":2867.3,"p2":2788.5,"tt":359.4,"tp":2830}],
"tails":[
{"id":"fb1","p":3175.0,"a":211.0,"b":212.8},{"id":"fb1","p":3154.0,"a":195.8,"b":212.8},
{"id":"tl","p":3001.7,"a":285.1,"b":288.7},{"id":"tl","p":2985.9,"a":283.1,"b":288.7},{"id":"tl","p":2922.9,"a":275.0,"b":275.0},
{"id":"fb2","p":2800.0,"a":375.3,"b":379.9},{"id":"fb2","p":2788.5,"a":375.3,"b":380.2},{"id":"fb2","p":2699.8,"a":383.2,"b":383.2}
],
"proj":[
{"s":"up","g":"u","k":0,"t":393.6,"p":2641.9},{"s":"up","g":"u","k":1,"t":400.4,"p":2733.8},{"s":"up","g":"u","k":2,"t":410.4,"p":2673.5},{"s":"up","g":"u","k":3,"t":415.8,"p":2852.0},
{"s":"up","g":"uh","k":0,"t":413.8,"p":2837.7},{"s":"up","g":"uh","k":1,"t":415.8,"p":2852.0},{"s":"up","g":"uh","k":2,"t":416.8,"p":2834.2},
{"s":"dn","g":"d","k":0,"t":393.4,"p":2618.3},{"s":"dn","g":"d","k":1,"t":394.4,"p":2554.2},{"s":"dn","g":"d","k":2,"t":399.5,"p":2582.6},{"s":"dn","g":"d","k":3,"t":399.5,"p":2477.6},{"s":"dn","g":"d","k":4,"t":405.4,"p":2519.5},{"s":"dn","g":"d","k":5,"t":410.4,"p":2451.3},{"s":"dn","g":"d","k":6,"t":414.5,"p":2575.3},
{"s":"dn","g":"dh","k":0,"t":412.5,"p":2561.3},{"s":"dn","g":"dh","k":1,"t":414.5,"p":2575.3},{"s":"dn","g":"dh","k":2,"t":415.5,"p":2557.6}
],
"bb":[
{"c":"b1","t1":479.2,"t2":501.9,"p1":2873.6,"p2":2832.6},
{"c":"b1","t1":479.2,"t2":501.9,"p1":2761.7,"p2":2720.7},
{"c":"w","t1":479.2,"t2":501.9,"p1":2690.6,"p2":2615.4},
{"c":"y","t1":479.2,"t2":501.9,"p1":2615.0,"p2":2575.8},
{"c":"b1","t1":479.2,"t2":501.9,"p1":2575.4,"p2":2536.4},
{"c":"o","t1":479.35,"t2":501.9,"p1":2534.6,"p2":2495.2},
{"c":"o","t1":465.0,"t2":478.85,"p1":2534.6,"p2":2495.2},
{"c":"b1","t1":479.2,"t2":501.9,"p1":2470.2,"p2":2427.7},
{"c":"b2","t1":479.2,"t2":501.9,"p1":2180.2,"p2":2139.2},
{"c":"r","t1":479.35,"t2":502.2,"p1":2104.6,"p2":2062.1},
{"c":"r","t1":459.2,"t2":478.85,"p1":2104.6,"p2":2062.1}
],
"bt":[
{"s":"2852.75","c":"d","t":483.2,"p":2852.4},
{"s":"2740.44","c":"d","t":483.2,"p":2740.7},
{"s":"2619.19","c":"d","t":483.2,"p":2668.7},
{"s":"01:49","c":"g","t":483.2,"p":2637.2},
{"s":"2596.20","c":"d","t":483.2,"p":2595.4},
{"s":"2581.29","c":"d","t":483.2,"p":2556.0},
{"s":"2560.12","c":"d","t":483.2,"p":2514.9},
{"s":"2450.16","c":"d","t":483.2,"p":2449.0},
{"s":"2160.14","c":"d","t":483.2,"p":2159.7},
{"s":"13.793K","c":"w","t":483.6,"p":2083.3}
],
"bl":[{"s":"EMA","c":"d","t":471.8,"p":2514.9},{"s":"Volume","c":"w","t":469.0,"p":2083.3}],
"usdt":[{"s":"USDT","t1":484.7,"t2":498.9,"p1":3376.3,"p2":3332.1,"tt":491.8,"tp":3354.2}],
"ttl":[{"s":"Ethereum / TetherUS, 1h, BINANCE","t":0.66,"p":3352.5}]
},
"layer":[
{"data":{"name":"k"},"mark":{"type":"bar","width":2.2},
 "encoding":{
  "x":{"field":"t","type":"quantitative","scale":{"domain":[-2.38,479.1],"nice":false,"zero":false}},
  "y":{"field":"v","type":"quantitative","scale":{"domain":[0,491],"nice":false,"zero":false},"axis":null},
  "color":{"condition":{"test":"datum.c >= datum.o","value":"#1f7d77"},"value":"#a9423f"}}},
{"data":{"name":"k"},"mark":{"type":"rule","strokeWidth":1},
 "encoding":{
  "x":{"field":"t","type":"quantitative","scale":{"domain":[-2.38,479.1],"nice":false,"zero":false},
   "axis":{"title":null,"zindex":0,"values":[0,48,84.2,120,168,216,261.9,288,336,384,432],"labelExpr":"datum.value == 84.2 || datum.value == 261.9 ? '12:30' : '' + round(datum.value/24 + 9)","grid":true,"gridColor":"#30345f","gridDash":[2,3],"gridWidth":1,"ticks":false,"domain":true,"domainColor":"#9a9eb2","labelColor":"#a57dc4","labelFont":"Roboto","labelFontSize":18,"labelPadding":12,"labelFlush":false,"labelOverlap":false,
    "labelFontWeight":{"condition":{"test":"datum.value == 120 || datum.value == 288","value":"bold"},"value":"normal"}}},
  "y":{"field":"l","type":"quantitative","scale":{"domain":[2044.7,3390.45],"nice":false,"zero":false},
   "axis":{"title":null,"orient":"right","zindex":0,"values":[2100,2200,2300,2400,2500,2600,2700,2800,2900,3000,3100,3200,3300],"labelExpr":"datum.value == 2600 ? '' : format(datum.value, '.2f')","grid":true,"gridColor":"#30345f","gridDash":[2,3],"gridWidth":1,"ticks":false,"domain":true,"domainColor":"#9a9eb2","labelColor":"#a57dc4","labelFont":"Roboto","labelFontSize":18,"labelPadding":15,"labelAlign":"left","labelFlush":false,"labelOverlap":false}},
  "y2":{"field":"h"},
  "color":{"condition":{"test":"datum.c >= datum.o","value":"#d9eef2"},"value":"#f2bdd1"}}},
{"data":{"name":"k"},"mark":{"type":"bar","width":2.6},
 "encoding":{
  "x":{"field":"t","type":"quantitative"},
  "y":{"field":"o","type":"quantitative","scale":{"domain":[2044.7,3390.45],"nice":false,"zero":false},"axis":null},
  "y2":{"field":"c"},
  "color":{"condition":{"test":"datum.c >= datum.o","value":"#2fc6da"},"value":"#ee73a0"}}},
{"data":{"name":"ema"},"mark":{"type":"line","interpolate":"monotone","stroke":"#f7a21b","strokeWidth":2},
 "encoding":{"x":{"field":"t","type":"quantitative"},"y":{"field":"e","type":"quantitative","scale":{"domain":[2044.7,3390.45],"nice":false,"zero":false},"axis":null}}},
{"data":{"name":"zone"},"mark":{"type":"rect","fill":"#4a3920","fillOpacity":0.88,"stroke":"#efe6d6","strokeWidth":1.3},
 "encoding":{"x":{"field":"t1","type":"quantitative"},"x2":{"field":"t2"},"y":{"field":"p1","type":"quantitative","scale":{"domain":[2044.7,3390.45],"nice":false,"zero":false},"axis":null},"y2":{"field":"p2"}}},
{"data":{"name":"hl"},"mark":{"type":"rule"},
 "encoding":{"y":{"field":"p","type":"quantitative","scale":{"domain":[2044.7,3390.45],"nice":false,"zero":false},"axis":null},
  "strokeWidth":{"condition":{"test":"datum.k == 'major'","value":3},"value":1.3},
  "color":{"condition":{"test":"datum.k == 'major'","value":"#b9d5f6"},"value":"#dbe3f1"}}},
{"data":{"name":"tl"},"transform":[{"filter":"datum.g == 'solid'"}],"mark":{"type":"line","stroke":"#cdbd62","strokeWidth":1.3,"clip":true},
 "encoding":{"x":{"field":"t","type":"quantitative"},"y":{"field":"p","type":"quantitative","scale":{"domain":[2044.7,3390.45],"nice":false,"zero":false},"axis":null}}},
{"data":{"name":"tl"},"transform":[{"filter":"datum.g == 'dash'"}],"mark":{"type":"line","stroke":"#c8bb7a","strokeWidth":1.6,"strokeDash":[7,5],"clip":true},
 "encoding":{"x":{"field":"t","type":"quantitative"},"y":{"field":"p","type":"quantitative","scale":{"domain":[2044.7,3390.45],"nice":false,"zero":false},"axis":null}}},
{"data":{"name":"k"},"transform":[{"filter":"datum.t == 391"}],"mark":{"type":"rule","stroke":"#ffffff","strokeWidth":2.5,"strokeDash":[3,6]},
 "encoding":{"y":{"field":"c","type":"quantitative","scale":{"domain":[2044.7,3390.45],"nice":false,"zero":false},"axis":null}}},
{"data":{"name":"tails"},"mark":{"type":"area","orient":"horizontal","strokeWidth":1.5},
 "encoding":{"y":{"field":"p","type":"quantitative","scale":{"domain":[2044.7,3390.45],"nice":false,"zero":false},"axis":null},"x":{"field":"a","type":"quantitative"},"x2":{"field":"b"},"detail":{"field":"id"},
  "fill":{"condition":{"test":"datum.id == 'tl'","value":"#1f55d1"},"value":"#878b94"},
  "stroke":{"condition":{"test":"datum.id == 'tl'","value":"#3e7be6"},"value":"#5aa9b0"}}},
{"data":{"name":"co"},"mark":{"type":"rect","cornerRadius":9,"strokeWidth":1.5},
 "encoding":{"x":{"field":"t1","type":"quantitative"},"x2":{"field":"t2"},"y":{"field":"p1","type":"quantitative","scale":{"domain":[2044.7,3390.45],"nice":false,"zero":false},"axis":null},"y2":{"field":"p2"},
  "fill":{"condition":{"test":"datum.id == 'tl'","value":"#1f55d1"},"value":"#878b94"},
  "stroke":{"condition":{"test":"datum.id == 'tl'","value":"#3e7be6"},"value":"#5aa9b0"}}},
{"data":{"name":"tails"},"mark":{"type":"area","orient":"horizontal"},
 "encoding":{"y":{"field":"p","type":"quantitative","scale":{"domain":[2044.7,3390.45],"nice":false,"zero":false},"axis":null},"x":{"field":"a","type":"quantitative"},"x2":{"field":"b"},"detail":{"field":"id"},
  "fill":{"condition":{"test":"datum.id == 'tl'","value":"#1f55d1"},"value":"#878b94"}}},
{"data":{"name":"co"},"mark":{"type":"text","font":"Roboto","fontSize":20,"baseline":"middle","align":"center"},
 "encoding":{"x":{"field":"tt","type":"quantitative"},"y":{"field":"tp","type":"quantitative","scale":{"domain":[2044.7,3390.45],"nice":false,"zero":false},"axis":null},"text":{"field":"txt"},
  "color":{"condition":{"test":"datum.id == 'tl'","value":"#ffffff"},"value":"#f1f2f4"}}},
{"data":{"name":"proj"},"mark":{"type":"line","strokeWidth":2},
 "encoding":{"x":{"field":"t","type":"quantitative"},"y":{"field":"p","type":"quantitative","scale":{"domain":[2044.7,3390.45],"nice":false,"zero":false},"axis":null},"detail":{"field":"g"},"order":{"field":"k"},
  "color":{"condition":{"test":"datum.s == 'up'","value":"#22a9c9"},"value":"#de2a6c"}}},
{"data":{"name":"bb"},"mark":{"type":"rect","cornerRadius":3},
 "encoding":{"x":{"field":"t1","type":"quantitative"},"x2":{"field":"t2"},"y":{"field":"p1","type":"quantitative","scale":{"domain":[2044.7,3390.45],"nice":false,"zero":false},"axis":null},"y2":{"field":"p2"},
  "color":{"field":"c","type":"nominal","legend":null,"scale":{"domain":["b1","b2","w","y","o","r"],"range":["#bbd7f8","#93c0f7","#ffffff","#ffeb3b","#ff9800","#ef5350"]}}}},
{"data":{"name":"bt"},"mark":{"type":"text","font":"Roboto","fontSize":18,"baseline":"middle","align":"left"},
 "encoding":{"x":{"field":"t","type":"quantitative"},"y":{"field":"p","type":"quantitative","scale":{"domain":[2044.7,3390.45],"nice":false,"zero":false},"axis":null},"text":{"field":"s"},
  "fill":{"condition":[{"test":"datum.c == 'w'","value":"#ffffff"},{"test":"datum.c == 'g'","value":"#5d606b"}],"value":"#131722"}}},
{"data":{"name":"bl"},"mark":{"type":"text","font":"Roboto","fontSize":18,"baseline":"middle","align":"center"},
 "encoding":{"x":{"field":"t","type":"quantitative"},"y":{"field":"p","type":"quantitative","scale":{"domain":[2044.7,3390.45],"nice":false,"zero":false},"axis":null},"text":{"field":"s"},
  "fill":{"condition":{"test":"datum.c == 'w'","value":"#ffffff"},"value":"#131722"}}},
{"data":{"name":"usdt"},"mark":{"type":"rect","cornerRadius":5,"fill":"#131722","stroke":"#3a3e4c","strokeWidth":1.2},
 "encoding":{"x":{"field":"t1","type":"quantitative"},"x2":{"field":"t2"},"y":{"field":"p1","type":"quantitative","scale":{"domain":[2044.7,3390.45],"nice":false,"zero":false},"axis":null},"y2":{"field":"p2"}}},
{"data":{"name":"usdt"},"mark":{"type":"text","font":"Roboto","fontSize":17,"baseline":"middle","align":"center","color":"#a57dc4"},
 "encoding":{"x":{"field":"tt","type":"quantitative"},"y":{"field":"tp","type":"quantitative","scale":{"domain":[2044.7,3390.45],"nice":false,"zero":false},"axis":null},"text":{"field":"s"}}},
{"data":{"name":"ttl"},"mark":{"type":"text","font":"Roboto","fontSize":19,"fontWeight":"bold","baseline":"middle","align":"left","color":"#0b0d14"},
 "encoding":{"x":{"field":"t","type":"quantitative"},"y":{"field":"p","type":"quantitative","scale":{"domain":[2044.7,3390.45],"nice":false,"zero":false},"axis":null},"text":{"field":"s"}}}
],
"resolve":{"scale":{"y":"independent"}}
}
